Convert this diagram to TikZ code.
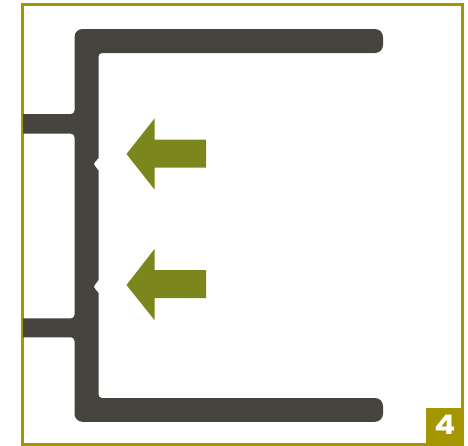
\documentclass[tikz,border=0pt]{standalone}
\usepackage{fontspec}
\newfontfamily\badgefont[FakeStretch=1.15]{Poppins}
\definecolor{framecol}{HTML}{A39600}
\definecolor{barcol}{HTML}{45443E}
\definecolor{arrowcol}{HTML}{7B861C}
\tikzset{
  framebox/.style={draw=framecol,line width=3pt},
  barshape/.style={fill=barcol,draw=none},
  bigarrow/.style={fill=arrowcol,draw=none},
  badge/.style={fill=framecol,draw=none},
  badgetext/.style={text=white,inner sep=0pt,font=\badgefont\bfseries\fontsize{27}{27}\selectfont}
}
\begin{document}
\begin{tikzpicture}[x=1pt,y=-1pt]
\useasboundingbox (0,0) rectangle (468,445);
\fill[white] (0,0) rectangle (468,445);
% frame
\draw[framebox] (22.5,4) rectangle (462.7,444);
% badge
\fill[badge] (426,407.7) rectangle (464,445);
\node[badgetext] (num) at (445,425) {4};
% channel
\fill[barshape]
  (23,114) -- (71,114) .. controls (72.9,114) and (74.5,112.4) .. (74.5,110.5)
  -- (74.5,37) .. controls (74.5,32.6) and (78.1,29) .. (82.5,29)
  -- (375,29) .. controls (379.4,29) and (383,32.6) .. (383,37)
  -- (383,45) .. controls (383,49.4) and (379.4,53) .. (375,53)
  -- (102,53) .. controls (100.1,53) and (98.5,54.6) .. (98.5,56.5)
  -- (98.5,158) -- (95,162) .. controls (93.6,164) .. (95,166) -- (98.5,170.5)
  -- (98.5,280) -- (95,284.7) .. controls (93.6,286.7) .. (95,288.7) -- (98.5,293)
  -- (98.5,394.5) .. controls (98.5,396.4) and (100.1,398) .. (102,398)
  -- (375,398) .. controls (379.4,398) and (383,401.6) .. (383,406)
  -- (383,413.8) .. controls (383,418.2) and (379.4,421.8) .. (375,421.8)
  -- (82.5,421.8) .. controls (78.1,421.8) and (74.5,418.2) .. (74.5,413.8)
  -- (74.5,340.8) .. controls (74.5,338.9) and (72.9,337.3) .. (71,337.3)
  -- (23,337.3) -- (23,318.3)
  -- (71,318.3) .. controls (72.9,318.3) and (74.5,316.7) .. (74.5,314.8)
  -- (74.5,137.2) .. controls (74.5,135.3) and (72.9,133.7) .. (71,133.7)
  -- (23,133.7) -- cycle;
% arrows
\fill[bigarrow] (126.5,154) -- (154.5,118.5) -- (154.5,139.5) -- (206,139.5) -- (206,167.5) -- (154.5,167.5) -- (154.5,189.5) -- cycle;
\fill[bigarrow] (126.5,285) -- (154.5,249) -- (154.5,270) -- (206,270) -- (206,298) -- (154.5,298) -- (154.5,320) -- cycle;
\end{tikzpicture}
\end{document}
